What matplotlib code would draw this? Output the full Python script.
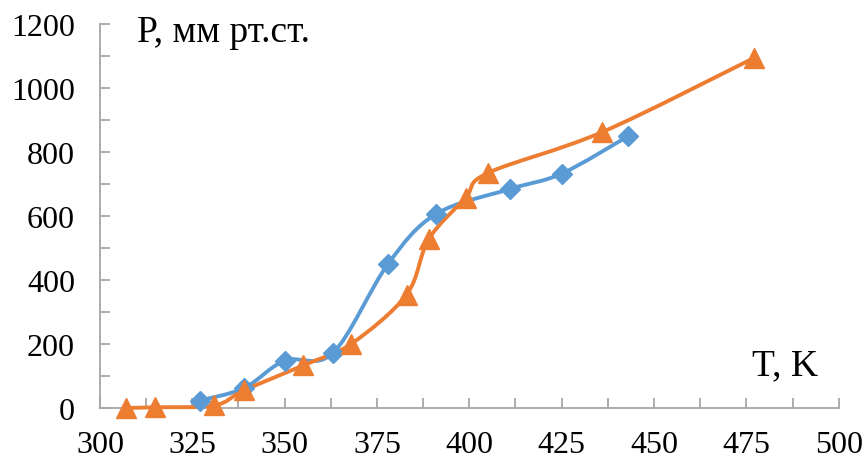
import numpy as np
import matplotlib
matplotlib.use("Agg")
import matplotlib.pyplot as plt
from matplotlib.path import Path
from matplotlib.patches import PathPatch
from matplotlib.ticker import MultipleLocator

# data
t_blue = [327, 339, 350, 363, 378, 391, 411, 425, 443]
p_blue = [23, 62, 148, 171, 450, 606, 684, 732, 849]

t_orange = [307, 315, 331, 339, 355, 368, 383, 389, 399, 405, 436, 477]
p_orange = [0, 2, 8, 55, 133, 200, 354, 527, 657, 734, 862, 1093]

x_ticks = [300, 325, 350, 375, 400, 425, 450, 475, 500]
y_ticks = [0, 200, 400, 600, 800, 1000, 1200]

blue = "#5B9BD5"
orange = "#ED7D31"
grey = "#A6A6A6"

plt.rcParams["font.family"] = ["Liberation Serif", "DejaVu Serif"]


def smooth_path(x, y):
    # Excel-like smoothed line: cubic Bezier through the points
    pts = np.column_stack([x, y]).astype(float)
    n = len(pts)
    verts = [pts[0]]
    codes = [Path.MOVETO]
    for i in range(n - 1):
        p0 = pts[i - 1] if i > 0 else pts[i]
        p1 = pts[i]
        p2 = pts[i + 1]
        p3 = pts[i + 2] if i + 2 < n else pts[i + 1]
        c1 = p1 + (p2 - p0) / 6
        c2 = p2 - (p3 - p1) / 6
        verts += [c1, c2, p2]
        codes += [Path.CURVE4] * 3
    return Path(verts, codes)


fig = plt.figure(figsize=(8.64, 4.6), dpi=100)
ax = fig.add_axes([0.1157, 0.111, 0.855, 0.835])

ax.add_patch(PathPatch(smooth_path(t_blue, p_blue), facecolor="none",
                       edgecolor=blue, lw=2.8, capstyle="round", zorder=3,
                       clip_on=False))
ax.plot(t_blue, p_blue, ls="none", marker="D", ms=10, color=blue, zorder=4,
        clip_on=False)

ax.add_patch(PathPatch(smooth_path(t_orange, p_orange), facecolor="none",
                       edgecolor=orange, lw=2.8, capstyle="round", zorder=3,
                       clip_on=False))
ax.plot(t_orange, p_orange, ls="none", marker="^", ms=15, color=orange,
        zorder=4, clip_on=False)

ax.set_xlim(300, 500)
ax.set_ylim(0, 1200)
ax.set_xticks(x_ticks)
ax.set_yticks(y_ticks)
ax.xaxis.set_minor_locator(MultipleLocator(12.5))
ax.yaxis.set_minor_locator(MultipleLocator(100))

for s in ["top", "right"]:
    ax.spines[s].set_visible(False)
for s in ["left", "bottom"]:
    ax.spines[s].set_color(grey)
    ax.spines[s].set_linewidth(1.3)

ax.tick_params(which="both", direction="in", length=7, width=1.3, color=grey)
ax.tick_params(axis="x", which="major", labelsize=23, pad=16)
ax.tick_params(axis="y", which="major", labelsize=23, pad=18)

ax.text(0.05, 0.979, "P, мм рт.ст.", transform=ax.transAxes, fontsize=27,
        ha="left", va="center")
ax.text(0.927, 0.112, "T, K", transform=ax.transAxes, fontsize=27,
        ha="center", va="center")

fig.savefig("out.png", dpi=100)
